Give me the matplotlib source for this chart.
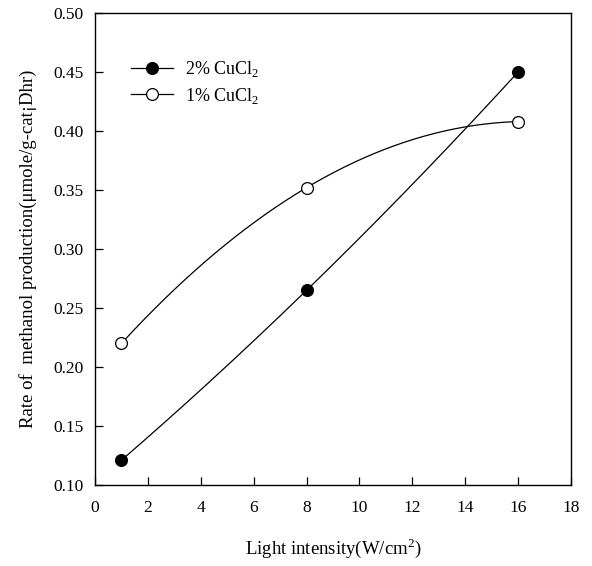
import numpy as np
import matplotlib
matplotlib.use("Agg")
import matplotlib.pyplot as plt

plt.rcParams['font.family'] = ['Liberation Serif', 'DejaVu Serif']
plt.rcParams['mathtext.fontset'] = 'custom'
plt.rcParams['mathtext.rm'] = 'Liberation Serif'

# light intensity (W/cm^2)
intensity = [1, 8, 16]
rate_2pct = [0.121, 0.265, 0.450]
rate_1pct = [0.220, 0.352, 0.408]
labels = ['2% CuCl$_2$', '1% CuCl$_2$']
x_ticks = [0, 2, 4, 6, 8, 10, 12, 14, 16, 18]
y_ticks = [0.10, 0.15, 0.20, 0.25, 0.30, 0.35, 0.40, 0.45, 0.50]


def smooth(x, y):
    # curve through the three points, like the original plotting package
    c = np.polyfit(x, y, 2)
    xs = np.linspace(min(x), max(x), 200)
    return xs, np.polyval(c, xs)


fig = plt.figure(figsize=(5.92, 5.66), dpi=100)
ax = fig.add_axes([95 / 592, 1 - 485 / 566, (571 - 95) / 592, (485 - 13) / 566])

for y, face, lab in [(rate_2pct, 'black', labels[0]), (rate_1pct, 'white', labels[1])]:
    xs, ys = smooth(intensity, y)
    ax.plot(xs, ys, color='black', lw=0.9)
    ax.plot(intensity, y, 'o', ms=8.5, mfc=face, mec='black', mew=0.9)
    ax.plot([], [], '-o', color='black', lw=0.9, ms=8.5, mfc=face, mec='black',
            mew=0.9, label=lab)

ax.set_xlim(0, 18)
ax.set_ylim(0.10, 0.50)
ax.set_xticks(x_ticks)
ax.set_yticks(y_ticks)
ax.set_yticklabels([f'{v:.2f}' for v in y_ticks])
ax.tick_params(direction='in', length=6, width=0.9, labelsize=12.5)
ax.tick_params(axis='x', pad=11)
ax.tick_params(axis='y', pad=8)
for s in ax.spines.values():
    s.set_linewidth(1.0)

ax.set_xlabel('Light intensity(W/cm$^2$)', fontsize=13.5, labelpad=14)
ax.set_ylabel('Rate of  methanol production(\u03bcmole/g-cat\u00a1Dhr)', fontsize=13.5,
              labelpad=12)

ax.legend(loc='upper left', bbox_to_anchor=(0.06, 0.917), frameon=False, fontsize=13,
          handlelength=2.35, handletextpad=0.65, labelspacing=0.35, borderaxespad=0)

fig.savefig('out.png', dpi=100)
